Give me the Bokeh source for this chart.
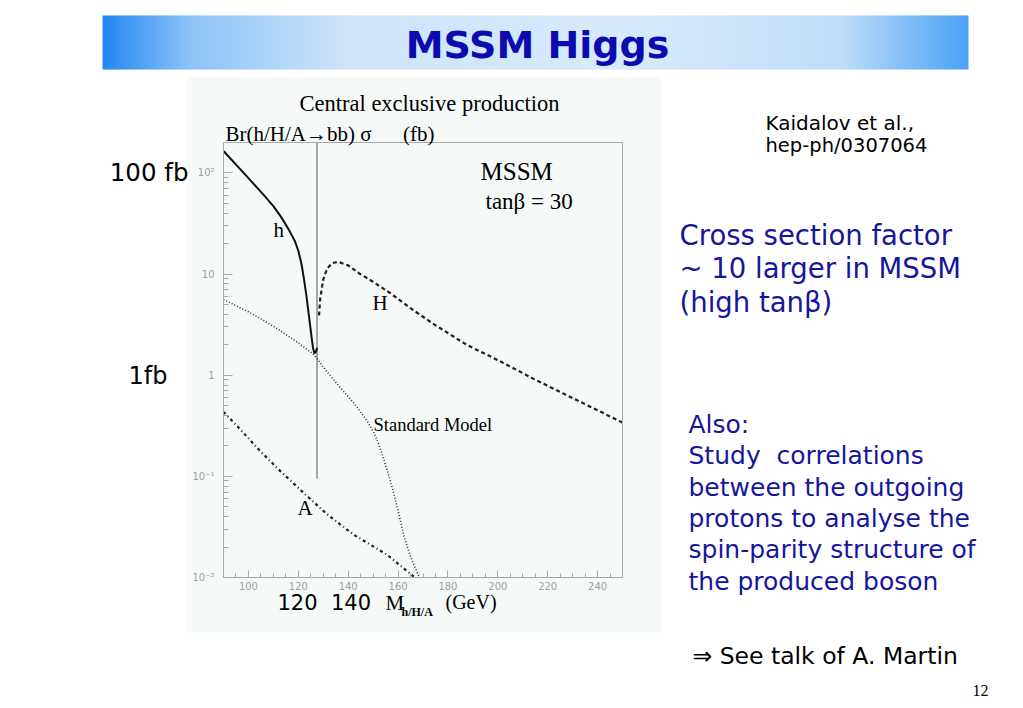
import math
from bokeh.plotting import figure
from bokeh.models import (Label, BoxAnnotation, SingleIntervalTicker, LogTicker, FixedTicker,
                          CustomJSTickFormatter, Range1d, LinearAxis, LogAxis)
from bokeh.embed import file_html
from bokeh.resources import INLINE

# ---------------- data ----------------
h_mass = [90, 100, 106, 110, 113, 116, 118.5, 120, 121.3, 122.3, 123.3, 124.3, 125.2,
          125.9, 126.5, 127.0, 127.6]
h_xsec = [165, 89, 61, 47, 37, 28, 21.5, 17, 12.5, 8.8, 6.0, 3.8, 2.5,
          1.86, 1.64, 1.70, 1.86]

H_mass = [128.3, 128.8, 130.0, 131.5, 133.5, 136.0, 140.0, 144.3, 149.6, 156.8, 165.0,
          174.3, 187.5, 200.8, 214.0, 227.3, 240.8, 250.0]
H_xsec = [3.9, 5.8, 8.8, 11.3, 12.8, 13.2, 12.2, 10.2, 8.5, 6.5, 4.6,
          3.2, 2.0, 1.38, 0.93, 0.64, 0.44, 0.34]

SM_mass = [90, 100, 110, 120, 126.2, 127.6, 131, 136.9, 142.3, 146, 148, 150.3, 152,
           154, 156, 158, 160, 162.3, 164, 165.7, 168.6]
SM_xsec = [5.6, 4.24, 3.05, 2.09, 1.6, 1.45, 1.12, 0.75, 0.53, 0.40, 0.34, 0.27, 0.215,
           0.155, 0.108, 0.072, 0.046, 0.026, 0.019, 0.0145, 0.0100]

A_mass = [90, 96.8, 104.8, 112.9, 122.9, 131.6, 142.2, 155.6, 166.3]
A_xsec = [0.434, 0.29, 0.177, 0.112, 0.066, 0.042, 0.0265, 0.0168, 0.0102]

cut_mass = [127.5, 127.5]
cut_xsec = [0.095, 200]

x_limits = (90, 250)       # chart axis extent (GeV)
y_limits = (0.01, 200)     # chart axis extent (fb)

# ---------------- page geometry ----------------
W, H = 1020, 705
FL, FR, FT, FB = 223, 622, 142, 577     # chart box on the page (px)

gev_px = (FR - FL) / (x_limits[1] - x_limits[0])
dec_px = (FB - FT) / (math.log10(y_limits[1]) - math.log10(y_limits[0]))
x0 = x_limits[0] - FL / gev_px
x1 = x0 + W / gev_px
ly0 = math.log10(y_limits[0]) - (H - FB) / dec_px
ly1 = math.log10(y_limits[0]) + FB / dec_px

panel_bg = "#f5f9f7"
axis_grey = "#a8a8a8"

p = figure(width=W, height=H, x_range=Range1d(x0, x1),
           y_range=Range1d(10 ** ly0, 10 ** ly1), y_axis_type="log",
           output_backend="svg", toolbar_location=None,
           min_border=0, min_border_left=0, min_border_right=0,
           min_border_top=0, min_border_bottom=0)
p.xgrid.visible = False
p.ygrid.visible = False
p.background_fill_color = "white"
p.border_fill_color = "white"
p.outline_line_color = None

xa = p.xaxis[0]
ya = p.yaxis[0]
xa.fixed_location = y_limits[0]
xa.bounds = x_limits
ya.fixed_location = x_limits[0]
ya.bounds = y_limits

for ax in (xa, ya):
    ax.axis_line_color = axis_grey
    ax.major_tick_line_color = axis_grey
    ax.minor_tick_line_color = axis_grey
    ax.major_tick_out = 0
    ax.minor_tick_out = 0
    ax.major_label_text_color = "#a0a0a0"
    ax.major_label_text_font = "DejaVu Sans"
    ax.major_label_text_font_size = "10px"

xa.ticker = SingleIntervalTicker(interval=20, num_minor_ticks=4)
xa.major_tick_in = 7
xa.minor_tick_in = 4
xa.major_label_standoff = 4

ya.ticker = LogTicker(num_minor_ticks=10)
ya.major_tick_in = 9
ya.minor_tick_in = 5
ya.major_label_standoff = 9
ya.formatter = CustomJSTickFormatter(code="""
const e = Math.round(Math.log10(tick));
if (e == 0) return "1";
if (e == 1) return "10";
const sup = {"-2": "\u207b\u00b2", "-1": "\u207b\u00b9", "2": "\u00b2", "3": "\u00b3"};
return "10" + sup[String(e)];
""")

# top and right edges of the chart box (plain axis lines, no ticks)
top_ax = LinearAxis(fixed_location=y_limits[1], bounds=x_limits,
                    ticker=FixedTicker(ticks=[], minor_ticks=[]),
                    major_tick_line_color=None, minor_tick_line_color=None,
                    axis_line_color=axis_grey)
right_ax = LogAxis(fixed_location=x_limits[1], bounds=y_limits,
                   ticker=FixedTicker(ticks=[], minor_ticks=[]),
                   major_tick_line_color=None, minor_tick_line_color=None,
                   axis_line_color=axis_grey)
p.add_layout(top_ax, "above")
p.add_layout(right_ax, "right")


def scr(px, py):
    return px, H - py


def box(l, r, t, b, color):
    L_, B_ = scr(l, b)
    R_, T_ = scr(r, t)
    p.add_layout(BoxAnnotation(left=L_, right=R_, bottom=B_, top=T_,
                               left_units="screen", right_units="screen",
                               top_units="screen", bottom_units="screen",
                               fill_color=color, fill_alpha=1, line_alpha=0,
                               level="underlay"))


# panel background of the embedded chart
box(187, 661, 77, 632, panel_bg)

# title bar gradient
stops = [(0.0, (35, 135, 240)), (0.1, (140, 195, 248)), (0.28, (205, 228, 250)),
         (0.6, (215, 235, 252)), (0.85, (192, 222, 250)), (1.0, (75, 162, 245))]


def grad(tt):
    for (t0, c0), (t1, c1) in zip(stops[:-1], stops[1:]):
        if t0 <= tt <= t1:
            f = (tt - t0) / (t1 - t0)
            return "#%02x%02x%02x" % tuple(int(c0[i] + (c1[i] - c0[i]) * f) for i in range(3))
    return "#%02x%02x%02x" % stops[-1][1]


bar_l, bar_r, bar_t, bar_b = 102, 968, 15, 69
n = 216
w = (bar_r - bar_l) / n
for i in range(n):
    xl = bar_l + i * w
    box(xl, min(xl + w + 1, bar_r), bar_t, bar_b, grad((i + 0.5) / n))

# ---------------- curves ----------------
p.line(cut_mass, cut_xsec, line_color="#707070", line_width=1.2)
p.line(SM_mass, SM_xsec, line_color="#303030", line_width=1.6, line_dash="1 2")
p.line(A_mass, A_xsec, line_color="#202020", line_width=2.2, line_dash="3 3 1 3")
p.line(H_mass, H_xsec, line_color="#202020", line_width=2.2, line_dash="4 3")
p.line(h_mass, h_xsec, line_color="#111111", line_width=2)


# ---------------- texts ----------------
def L(text, px, py, size, font="DejaVu Sans", color="black", align="left",
      baseline="middle", style="normal"):
    x, y = scr(px, py)
    p.add_layout(Label(x=x, y=y, x_units="screen", y_units="screen", text=text,
                       text_font=font, text_font_size=f"{size}px", text_color=color,
                       text_align=align, text_baseline=baseline, text_font_style=style))


serif = "Liberation Serif"
blue = "#16169c"
nb = "\u00a0"

L("MSSM Higgs", 537, 44, 38, color="#0b0bb0", align="center", style="bold")

L("Central exclusive production", 429, 103, 22.5, font=serif, align="center")
L("Br(h/H/A\u2192bb) \u03c3" + nb * 6 + "(fb)", 225, 133, 21, font=serif)
L("MSSM", 480, 171, 25, font=serif)
L("tan\u03b2 = 30", 485, 201, 23, font=serif)
L("h", 273, 229, 21, font=serif)
L("H", 372, 302, 21, font=serif)
L("A", 297, 507, 21, font=serif)
L("Standard Model", 373, 424, 18.5, font=serif)
L("M", 385, 602, 21, font=serif)
L("h/H/A", 401, 611, 12, font=serif, style="bold")
L("(GeV)", 445, 601, 20, font=serif)

L("100 fb", 188, 172, 24.5, align="right")
L("1fb", 128, 375, 24)
L("120" + nb * 2 + "140", 277, 602, 21)

L("Kaidalov et al.,", 765, 122, 20)
L("hep-ph/0307064", 765, 145, 19.5)

for i, s in enumerate(["Cross section factor", "~ 10 larger in MSSM", "(high tan\u03b2)"]):
    L(s, 679, 234 + i * 33.5, 27.5, color=blue)

also = ["Also:", "Study" + nb * 2 + "correlations", "between the outgoing",
        "protons to analyse the", "spin-parity structure of", "the produced boson"]
for i, s in enumerate(also):
    L(s, 688, 424 + i * 31.3, 25, color=blue)

L("\u21d2 See talk of A. Martin", 692, 655, 23.5)
L("12", 988, 690, 16, font=serif, align="right")

open("out.html", "w").write(file_html(p, INLINE))
